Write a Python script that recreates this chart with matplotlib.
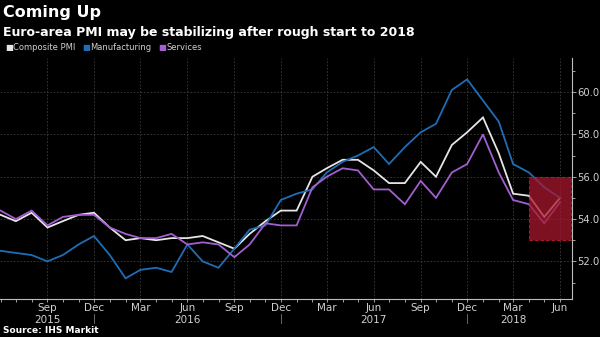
import matplotlib
matplotlib.use("Agg")
import matplotlib.pyplot as plt
import matplotlib.dates as mdates
from matplotlib.patches import Rectangle
import pandas as pd

# Monthly Euro-area PMI readings, Jun 2015 - Jun 2018
months = pd.date_range("2015-06-01", "2018-06-01", freq="MS")

composite = [54.2, 53.9, 54.3, 53.6, 53.9, 54.2, 54.3,
             53.6, 53.0, 53.1, 53.0, 53.1, 53.1, 53.2, 52.9, 52.6, 53.3, 53.9, 54.4,
             54.4, 56.0, 56.4, 56.8, 56.8, 56.3, 55.7, 55.7, 56.7, 56.0, 57.5, 58.1,
             58.8, 57.1, 55.2, 55.1, 54.1, 55.0]
manufacturing = [52.5, 52.4, 52.3, 52.0, 52.3, 52.8, 53.2,
                 52.3, 51.2, 51.6, 51.7, 51.5, 52.8, 52.0, 51.7, 52.6, 53.5, 53.7, 54.9,
                 55.2, 55.4, 56.2, 56.7, 57.0, 57.4, 56.6, 57.4, 58.1, 58.5, 60.1, 60.6,
                 59.6, 58.6, 56.6, 56.2, 55.5, 55.0]
services = [54.4, 54.0, 54.4, 53.7, 54.1, 54.2, 54.2,
            53.6, 53.3, 53.1, 53.1, 53.3, 52.8, 52.9, 52.8, 52.2, 52.8, 53.8, 53.7,
            53.7, 55.5, 56.0, 56.4, 56.3, 55.4, 55.4, 54.7, 55.8, 55.0, 56.2, 56.6,
            58.0, 56.2, 54.9, 54.7, 53.8, 54.8]

series_names = ["Composite PMI", "Manufacturing", "Services"]
series_colors = ["#e6e6e6", "#1f6db5", "#a25fd0"]

y_ticks = [52.0, 54.0, 56.0, 58.0, 60.0]
month_ticks = pd.date_range("2015-09-01", "2018-06-01", freq="3MS")
highlight_start = "2018-04-01"
highlight_low, highlight_high = 53.0, 56.0

year_labels = [("2015-09-01", "2015"), ("2016-06-01", "2016"),
               ("2017-06-01", "2017"), ("2018-03-01", "2018")]
year_breaks = ["2015-12-01", "2016-12-01", "2017-12-01"]

BG = "#000000"
TXT = "#d0d0d0"
GRID = "#3c3c3c"

fig = plt.figure(figsize=(6.0, 3.37), dpi=100, facecolor=BG)
ax = fig.add_axes([0.0, 0.1113, 0.953, 0.716], facecolor=BG)

for vals, col in zip([composite, manufacturing, services], series_colors):
    ax.plot(months, vals, color=col, lw=1.3, zorder=3, solid_joinstyle="miter")

x0 = pd.Timestamp("2015-06-01") - pd.Timedelta(days=1)
x1 = pd.Timestamp("2018-06-01") + pd.Timedelta(days=23)
ax.set_xlim(x0, x1)
ax.set_ylim(50.2, 61.6)

# highlighted recent period
hs = mdates.date2num(pd.Timestamp(highlight_start))
ax.add_patch(Rectangle((hs, highlight_low), mdates.date2num(x1) - hs - 2.5,
                       highlight_high - highlight_low,
                       facecolor="#a8182e", alpha=0.75, edgecolor="#d02030",
                       linestyle=(0, (3, 2)), lw=0.8, zorder=4))

# axes styling
for side in ["left", "top"]:
    ax.spines[side].set_visible(False)
for side in ["right", "bottom"]:
    ax.spines[side].set_color("#bdbdbd")
    ax.spines[side].set_linewidth(0.8)

ax.yaxis.tick_right()
ax.set_yticks(y_ticks)
ax.set_yticklabels([f"{v:.1f}" for v in y_ticks])
ax.set_yticks([51, 53, 55, 57, 59, 61], minor=True)
ax.tick_params(axis="y", which="major", colors="#bdbdbd", labelcolor=TXT,
               labelsize=7.2, length=3, width=0.6, pad=1)
ax.tick_params(axis="y", which="minor", colors="#bdbdbd", length=2, width=0.6)

ax.set_xticks(month_ticks)
ax.xaxis.set_major_formatter(mdates.DateFormatter("%b"))
ax.xaxis.set_minor_locator(mdates.MonthLocator())
ax.tick_params(axis="x", which="major", colors="#bdbdbd", labelcolor=TXT,
               labelsize=7.5, length=2, width=0.6, pad=0.5)
ax.tick_params(axis="x", which="minor", colors="#bdbdbd", length=2, width=0.6)

ax.grid(True, which="major", color=GRID, lw=0.6, linestyle=(0, (2, 2)))

# year labels and separators below month labels
trans = ax.get_xaxis_transform()
for d, lab in year_labels:
    ax.text(pd.Timestamp(d), -0.083, lab, transform=trans, ha="center", va="center",
            fontsize=7.5, color=TXT)
for d in year_breaks:
    ax.plot([pd.Timestamp(d)] * 2, [-0.062, -0.098], transform=trans,
            color="#777777", lw=0.6, clip_on=False)

# titles
fig.text(0.005, 0.962, "Coming Up", fontsize=11.5, fontweight="bold",
         color="#ffffff", ha="left", va="center")
fig.text(0.005, 0.905, "Euro-area PMI may be stabilizing after rough start to 2018",
         fontsize=9, fontweight="bold", color="#ffffff", ha="left", va="center")

# legend row
lx = 0.008
for name, col in zip(series_names, series_colors):
    fig.text(lx, 0.858, "\u25A0", fontsize=6, color=col, ha="left", va="center")
    t = fig.text(lx + 0.013, 0.858, name, fontsize=6, color=TXT, ha="left", va="center")
    fig.canvas.draw()
    bb = t.get_window_extent()
    lx = bb.x1 / fig.bbox.width + 0.012

fig.text(0.005, 0.018, "Source: IHS Markit", fontsize=6.5, fontweight="bold",
         color="#ffffff", ha="left", va="center")

fig.savefig("out.png", dpi=100, facecolor=BG)
